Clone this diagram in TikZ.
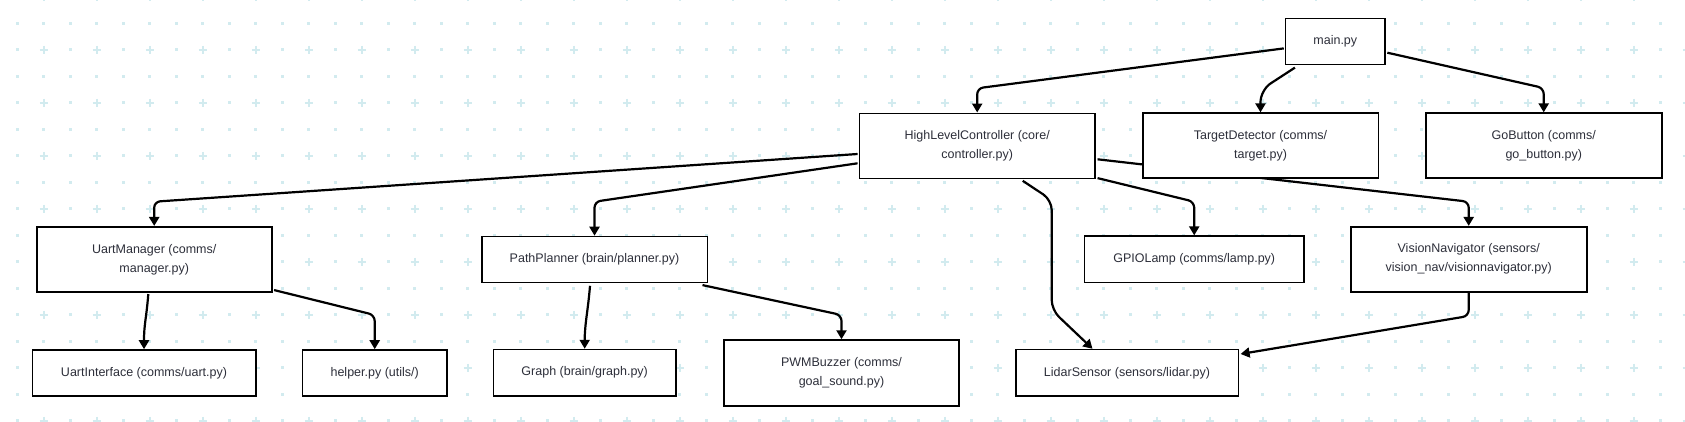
\documentclass[tikz,border=0pt]{standalone}
\usepackage{fontspec}
\setmainfont{Liberation Sans}
\usetikzlibrary{arrows.meta,calc}
\definecolor{gridc}{RGB}{210,235,239}
\definecolor{txt}{RGB}{45,47,58}
\pgfdeclarelayer{gridlayer}
\pgfdeclarelayer{edgelayer}
\pgfsetlayers{gridlayer,edgelayer,main}
\tikzset{
  box/.style={draw=black, line width=1.6pt, fill=white, inner sep=0pt, align=center,
    text=txt, font=\fontsize{12.5}{19}\selectfont},
  conn/.style={draw=black, line width=2.2pt, rounded corners=6pt, line join=round,
    -{Triangle[width=10pt,length=9pt]}},
}
\begin{document}
\begin{tikzpicture}[x=1pt,y=-1pt]
\useasboundingbox (0,0) rectangle (1685,421);
\begin{pgfonlayer}{gridlayer}
\fill[white] (0,0) rectangle (1685,421);
\foreach \i in {0,...,63} {
  \foreach \j in {-1,...,15} {
    \pgfmathsetmacro\gx{17.3+26.5*\i}
    \pgfmathsetmacro\gy{23.3+26.5*\j}
    \ifodd\i
      \ifodd\j
        \draw[gridc, line width=1.7pt] (\gx-4,\gy) -- (\gx+4,\gy) (\gx,\gy-4) -- (\gx,\gy+4);
      \else
        \fill[gridc] (\gx-1.4,\gy-1.4) rectangle (\gx+1.4,\gy+1.4);
      \fi
    \else
      \fill[gridc] (\gx-1.4,\gy-1.4) rectangle (\gx+1.4,\gy+1.4);
    \fi
  }
}
\end{pgfonlayer}

\node[box, minimum width=99.5pt, minimum height=46pt] (main) at (1335.3,41.4) {main.py};
\node[box, minimum width=235.7pt, minimum height=65pt] (hlc) at (977.2,145.8) {HighLevelController (core/\\controller.py)};
\node[box, minimum width=235.6pt, minimum height=65pt] (td) at (1260.5,145.7) {TargetDetector (comms/\\target.py)};
\node[box, minimum width=236pt, minimum height=65pt] (go) at (1543.7,145.7) {GoButton (comms/\\go\_button.py)};
\node[box, minimum width=235pt, minimum height=65.5pt] (um) at (154.2,259.5) {UartManager (comms/\\manager.py)};
\node[box, minimum width=225.6pt, minimum height=46pt] (pp) at (594.5,259.5) {PathPlanner (brain/planner.py)};
\node[box, minimum width=219.7pt, minimum height=46.5pt] (gpio) at (1194.2,259.4) {GPIOLamp (comms/lamp.py)};
\node[box, minimum width=236pt, minimum height=65pt] (vn) at (1468.7,259.2) {VisionNavigator (sensors/\\vision\_nav/visionnavigator.py)};
\node[box, minimum width=223.4pt, minimum height=46pt] (ui) at (144,373) {UartInterface (comms/uart.py)};
\node[box, minimum width=144.7pt, minimum height=46pt] (helper) at (374.7,373) {helper.py (utils/)};
\node[box, minimum width=182.7pt, minimum height=46.3pt] (graph) at (584.7,372.7) {Graph (brain/graph.py)};
\node[box, minimum width=235pt, minimum height=65.7pt] (pwm) at (841.5,372.9) {PWMBuzzer (comms/\\goal\_sound.py)};
\node[box, minimum width=222.6pt, minimum height=46.5pt] (lidar) at (1127,372.8) {LidarSensor (sensors/lidar.py)};

\begin{pgfonlayer}{edgelayer}
\draw[conn] ($(main.west)+(-1,7)$) -- (hlc.north |- 0,88.3) -- (hlc.north);
\draw[conn, rounded corners=12pt] ($(main.south west)+(10.2,2.4)$) -- (td.north |- 0,90) -- (td.north);
\draw[conn] ($(main.east)+(1.5,11.3)$) -- (go.north |- 0,88) -- (go.north);
\draw[conn] ($(hlc.west)+(-1,8.2)$) -- (um.north |- 0,201.7) -- (um.north);
\draw[conn] ($(hlc.west)+(-1,17.5)$) -- (pp.north |- 0,201.7) -- (pp.north);
\draw[conn] ($(hlc.east)+(1.7,13.5)$) -- (vn.north |- 0,201.7) -- (vn.north);
\draw[conn] ($(hlc.south east)+(1.7,-1)$) -- (gpio.north |- 0,201.7) -- (gpio.north);
\draw[conn, rounded corners=10pt] ($(hlc.south)+(45.5,1.7)$) -- (1051.7,200) -- (1051.7,310) -- ($(lidar.north west)+(77.6,0)$);
\draw[conn] ($(um.south)+(-5.9,1)$) .. controls +(-2,25) and +(0,-25) .. (ui.north);
\draw[conn] ($(um.south east)+(1.6,-3)$) -- (helper.north |- 0,315) -- (helper.north);
\draw[conn] ($(pp.south)+(-4.5,2.5)$) .. controls +(-2,25) and +(0,-25) .. (graph.north);
\draw[conn] ($(pp.south east)+(-5.6,1.8)$) -- (pwm.north |- 0,315) -- (pwm.north);
\draw[conn] (vn.south) -- (vn.south |- 0,316) -- ($(lidar.east)+(1.5,-18.8)$);
\end{pgfonlayer}
\end{tikzpicture}
\end{document}
